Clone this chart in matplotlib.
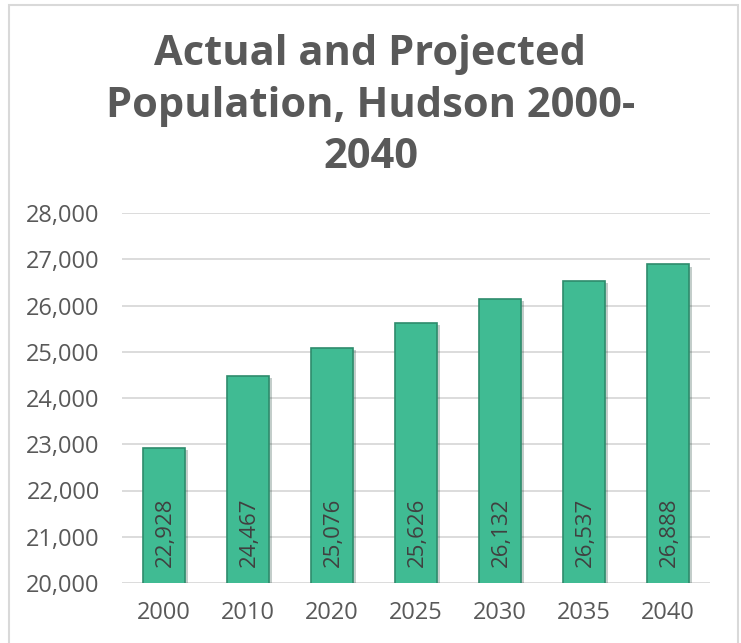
import matplotlib.pyplot as plt
import matplotlib.patheffects as pe
import matplotlib.transforms as mtransforms
from matplotlib.patches import Rectangle

years = ['2000', '2010', '2020', '2025', '2030', '2035', '2040']
population = [22928, 24467, 25076, 25626, 26132, 26537, 26888]
yticks = [20000, 21000, 22000, 23000, 24000, 25000, 26000, 27000, 28000]

plt.rcParams['font.family'] = ['Open Sans', 'DejaVu Sans']

fig = plt.figure(figsize=(7.41, 6.43), dpi=100)
ax = fig.add_axes([122 / 741, 60 / 643, 588 / 741, 370 / 643])

# light border round the whole chart
fig.patches.append(Rectangle((9 / 741, -0.01), 729 / 741, 1.0 - 5 / 643 + 0.01,
                             transform=fig.transFigure, fill=False,
                             edgecolor='#d9d9d9', linewidth=1.5))

x = range(len(years))
bars = ax.bar(x, population, width=0.51, color='#40bb93',
              edgecolor='#2e8b6c', linewidth=1.2, zorder=3)
for b in bars:
    b.set_path_effects([pe.SimplePatchShadow(offset=(1.5, -1.5), alpha=0.25),
                        pe.Normal()])

# labels sit just above the bar base, rotated
lift = mtransforms.offset_copy(ax.transData, fig=fig, x=1, y=16, units='dots')
for xi, v in zip(x, population):
    ax.text(xi, 20000, f'{v:,}', rotation=90, ha='center', va='bottom',
            fontsize=16, color='#404040', zorder=4, transform=lift)

ax.set_ylim(20000, 28000)
ax.set_xlim(-0.5, len(years) - 0.5)
ax.set_yticks(yticks)
ax.set_yticklabels([f'{t:,}' for t in yticks])
ax.set_xticks(list(x))
ax.set_xticklabels(years)
ax.tick_params(axis='y', length=0, labelsize=17, colors='#595959', pad=16)
ax.tick_params(axis='x', length=0, labelsize=17, colors='#595959', pad=13)
ax.grid(axis='y', color='#d9d9d9', linewidth=1.3, zorder=0)
for s in ax.spines.values():
    s.set_visible(False)

fig.text(0.5, 0.835, 'Actual and Projected\nPopulation, Hudson 2000-\n2040',
         ha='center', va='center', fontsize=30, fontweight='bold',
         color='#595959', linespacing=1.33)

fig.savefig('out.png', dpi=100)
